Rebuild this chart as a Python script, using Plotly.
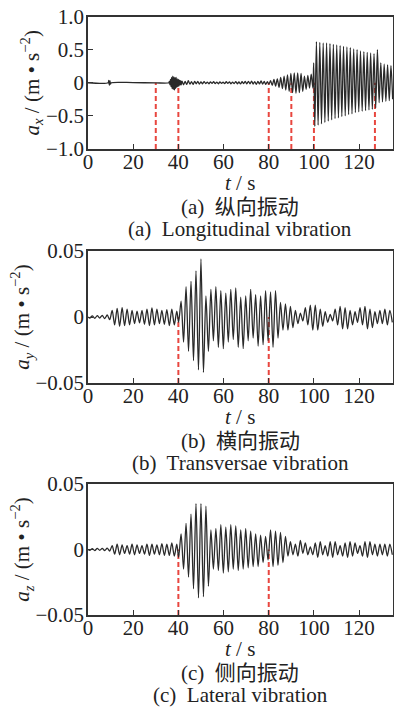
import plotly.graph_objects as go

# ---------------- Panel (a): longitudinal vibration ----------------
ta_quiet = [0.0, 8.9, 9.2, 9.45, 9.7, 9.95, 10.3, 20.0, 30.0, 35.8]
va_quiet = [0.0, 0.0, 0.035, -0.04, 0.03, -0.02, 0.0, 0.002, -0.002, 0.0]

ta_burst = [36.0, 36.25, 36.5, 36.75, 37.0, 37.25, 37.5, 37.75, 38.0, 38.25, 38.5,
            38.75, 39.0, 39.25, 39.5, 39.75, 40.0, 40.25, 40.5, 40.75, 41.0, 41.25]
va_burst = [0.02, -0.03, 0.05, -0.06, 0.08, -0.09, 0.10, -0.10, 0.09, -0.11, 0.08,
            -0.09, 0.08, -0.07, 0.06, -0.06, 0.05, -0.05, 0.04, -0.035, 0.03, -0.03]

ta_noise = [41.6, 42.3, 43.0, 43.7, 44.4, 45.1, 45.8, 46.5, 47.2, 47.9,
            48.6, 49.3, 50.0, 50.7, 51.4, 52.1, 52.8, 53.5, 54.2, 54.9,
            55.6, 56.3, 57.0, 57.7, 58.4, 59.1, 59.8, 60.5, 61.2, 61.9,
            62.6, 63.3, 64.0, 64.7, 65.4, 66.1, 66.8, 67.5, 68.2, 68.9,
            69.6, 70.3, 71.0, 71.7, 72.4, 73.1, 73.8, 74.5, 75.2, 75.9,
            76.6, 77.3, 78.0, 78.7, 79.4, 80.1]
va_noise = [0.025, -0.03, 0.02, -0.025, 0.03, -0.02, 0.015, -0.025, 0.02, -0.015,
            0.02, -0.02, 0.012, -0.015, 0.018, -0.012, 0.01, -0.015, 0.012, -0.01,
            0.015, -0.012, 0.01, -0.015, 0.012, -0.01, 0.008, -0.012, 0.015, -0.01,
            0.012, -0.015, 0.01, -0.012, 0.018, -0.015, 0.012, -0.018, 0.015, -0.012,
            0.02, -0.018, 0.022, -0.015, 0.025, -0.02, 0.018, -0.025, 0.022, -0.018,
            0.028, -0.02, 0.02, -0.025, 0.015, -0.02]

ta_grow = [80.8, 81.55, 82.3, 83.05, 83.8, 84.55, 85.3, 86.05, 86.8, 87.55,
           88.3, 89.05, 89.8, 90.55, 91.3, 92.05, 92.8, 93.55, 94.3, 95.05,
           95.8, 96.55, 97.3, 98.05, 98.8, 99.55]
va_grow = [0.03, -0.04, 0.05, -0.05, 0.06, -0.07, 0.08, -0.09, 0.10, -0.11,
           0.12, -0.13, 0.14, -0.15, 0.15, -0.16, 0.15, -0.15, 0.14, -0.13,
           0.10, -0.10, 0.11, -0.08, 0.13, -0.08]

ta_strong = [99.9, 100.4,
             101.1, 101.85, 102.6, 103.35, 104.1, 104.85, 105.6, 106.35, 107.1, 107.85,
             108.6, 109.35, 110.1, 110.85, 111.6, 112.35, 113.1, 113.85, 114.6, 115.35,
             116.1, 116.85, 117.6, 118.35, 119.1, 119.85, 120.6, 121.35, 122.1, 122.85,
             123.6, 124.35, 125.1, 125.85, 126.6, 127.35, 128.1, 128.85, 129.6, 130.35,
             131.1, 131.85, 132.6, 133.35, 134.1, 134.85]
va_strong = [0.30, -0.66,
             0.62, -0.64, 0.61, -0.62, 0.60, -0.60, 0.60, -0.58, 0.59, -0.56,
             0.58, -0.54, 0.57, -0.53, 0.56, -0.51, 0.55, -0.50, 0.54, -0.48,
             0.53, -0.47, 0.51, -0.45, 0.50, -0.44, 0.48, -0.43, 0.47, -0.42,
             0.46, -0.41, 0.45, -0.40, 0.44, -0.38, 0.50, -0.30, 0.30, -0.29,
             0.28, -0.28, 0.27, -0.27, 0.26, -0.25]

# ---------------- Panels (b) and (c): shared time stamps of extrema ----------------
t_bc = [0.0, 0.8, 1.9, 3.0, 4.1, 5.2, 6.3, 7.4, 8.5, 9.6,
        10.7, 11.8, 12.9, 14.0, 15.1, 16.2, 17.3, 18.4, 19.5, 20.6,
        21.7, 22.8, 23.9, 25.0, 26.1, 27.2, 28.3, 29.4, 30.5, 31.6,
        32.7, 33.8, 34.9, 36.0, 37.1, 38.2, 39.3,
        40.1, 41.2, 42.3, 43.4, 44.5, 45.6, 46.7, 47.8, 48.9, 50.0,
        51.1, 52.2, 53.3, 54.4, 55.5, 56.6, 57.7, 58.8, 59.9, 61.0,
        62.1, 63.2, 64.3, 65.4, 66.5, 67.6, 68.7, 69.8, 70.9, 72.0,
        73.1, 74.2, 75.3, 76.4, 77.5, 78.6, 79.7, 80.8, 81.9, 83.0,
        84.1, 85.2, 86.3, 87.4, 88.5, 89.6, 90.7, 91.8, 92.9, 94.0,
        95.1, 96.2, 97.3, 98.4, 99.5, 100.6, 101.7, 102.8, 103.9, 105.0,
        106.1, 107.2, 108.3, 109.4, 110.5, 111.6, 112.7, 113.8, 114.9, 116.0,
        117.1, 118.2, 119.3, 120.4, 121.5, 122.6, 123.7, 124.8, 125.9, 127.0,
        128.1, 129.2, 130.3, 131.4, 132.5, 133.6, 134.7]

vb = [0.0, -0.0008, 0.0008, -0.001, 0.001, -0.0008, 0.0012, -0.0012, 0.0015, -0.002,
      0.005, -0.006, 0.0065, -0.007, 0.007, -0.0065, 0.006, -0.006, 0.005, -0.005,
      0.0045, -0.0045, 0.005, -0.0055, 0.006, -0.0065, 0.0068, -0.006, 0.006, -0.005,
      0.005, -0.0055, 0.0055, -0.0065, 0.006, -0.006, 0.0045,
      -0.004, 0.012, -0.019, 0.023, -0.026, 0.027, -0.033, 0.035, -0.040, 0.044,
      -0.042, 0.016, -0.026, 0.021, -0.018, 0.023, -0.023, 0.020, -0.024, 0.018,
      -0.019, 0.021, -0.017, 0.022, -0.023, 0.015, -0.024, 0.016, -0.018, 0.021,
      -0.016, 0.017, -0.022, 0.016, -0.021, 0.020, -0.018, 0.019, -0.023, 0.020,
      -0.016, 0.011, -0.010, 0.010, -0.010, 0.008, -0.008, 0.005, -0.005, 0.003,
      -0.003, 0.007, -0.006, 0.009, -0.010, 0.009, -0.010, 0.006, -0.007, 0.004,
      -0.004, 0.002, -0.003, 0.006, -0.006, 0.008, -0.009, 0.007, -0.009, 0.005,
      -0.006, 0.004, -0.004, 0.007, -0.006, 0.008, -0.009, 0.006, -0.008, 0.004,
      -0.005, 0.005, -0.005, 0.006, -0.006, 0.005, -0.004]

vc = [0.0, -0.0006, 0.0006, -0.0008, 0.0008, -0.0006, 0.0008, -0.0008, 0.001, -0.0012,
      0.003, -0.0035, 0.004, -0.004, 0.0035, -0.003, 0.003, -0.0035, 0.004, -0.004,
      0.0035, -0.003, 0.003, -0.0035, 0.004, -0.0045, 0.004, -0.0035, 0.0035, -0.004,
      0.0045, -0.0045, 0.004, -0.0045, 0.005, -0.005, 0.004,
      -0.006, 0.012, -0.015, 0.020, -0.021, 0.027, -0.030, 0.035, -0.037, 0.035,
      -0.036, 0.033, -0.028, 0.015, -0.015, 0.016, -0.016, 0.019, -0.018, 0.017,
      -0.017, 0.019, -0.015, 0.018, -0.016, 0.015, -0.015, 0.016, -0.014, 0.014,
      -0.013, 0.012, -0.013, 0.011, -0.010, 0.010, -0.008, 0.015, -0.013, 0.014,
      -0.012, 0.013, -0.010, 0.010, -0.005, 0.006, -0.004, 0.004, -0.005, 0.007,
      -0.003, 0.005, -0.004, 0.002, -0.004, 0.005, -0.006, 0.006, -0.004, 0.003,
      -0.005, 0.006, -0.006, 0.006, -0.004, 0.003, -0.005, 0.005, -0.006, 0.006,
      -0.005, 0.005, -0.003, 0.003, -0.005, 0.006, -0.006, 0.006, -0.004, 0.004,
      -0.005, 0.004, -0.004, 0.004, -0.005, 0.004, -0.004]

ta = ta_quiet + ta_burst + ta_noise + ta_grow + ta_strong
va = va_quiet + va_burst + va_noise + va_grow + va_strong

# red dashed marker times
marks_a = [30, 40, 80, 90, 100, 127]
marks_b = [40, 80]
marks_c = [40, 80]

# ticks / labels
x_ticks = [0, 20, 40, 60, 80, 100, 120]
ya_ticks = [-1.0, -0.5, 0.0, 0.5, 1.0]
ya_labels = ["\u22121.0", "\u22120.5", "0", "0.5", "1.0"]
ybc_ticks = [-0.05, 0.0, 0.05]
ybc_labels = ["\u22120.05", "0", "0.05"]
y_titles = ["<i>a</i><sub><i>x</i></sub> / (m \u2022 s<sup>\u22122</sup>)",
            "<i>a</i><sub><i>y</i></sub> / (m \u2022 s<sup>\u22122</sup>)",
            "<i>a</i><sub><i>z</i></sub> / (m \u2022 s<sup>\u22122</sup>)"]
cap_cn = ["(a)  纵向振动", "(b)  横向振动", "(c)  侧向振动"]
cap_en = ["(a)  Longitudinal vibration", "(b)  Transversae vibration", "(c)  Lateral vibration"]

W, H = 394, 708
SERIF = "'Liberation Serif', 'Times New Roman', serif"
FONT = "'Liberation Serif', 'Times New Roman', 'Noto Sans CJK SC', serif"
INK = "#222222"
panel_top = [16.5, 251, 484]
panel_bot = [149, 383, 615]
x_left, x_right = 88, 393

series = [(ta, va, marks_a, [-1.0, 1.0], ya_ticks, ya_labels),
          (t_bc, vb, marks_b, [-0.05, 0.05], ybc_ticks, ybc_labels),
          (t_bc, vc, marks_c, [-0.05, 0.05], ybc_ticks, ybc_labels)]

fig = go.Figure()
layout = dict(width=W, height=H, margin=dict(l=0, r=0, t=0, b=0, autoexpand=False),
              paper_bgcolor="white", plot_bgcolor="white",
              font=dict(family=FONT, size=21, color=INK), showlegend=False)
shapes, annotations = [], []

for i, (t, v, marks, yr, yt, yl) in enumerate(series):
    sfx = "" if i == 0 else str(i + 1)
    xa, ya = "x" + sfx, "y" + sfx
    fig.add_trace(go.Scatter(x=t, y=v, xaxis=xa, yaxis=ya, mode="lines",
                             line=dict(color="#2a2a2a", width=1.3, shape="spline", smoothing=0.8),
                             hoverinfo="skip"))
    for m in marks:
        shapes.append(dict(type="line", xref=xa, yref=ya, x0=m, x1=m, y0=yr[0], y1=0,
                           line=dict(color="#e8463f", width=2, dash="5px,3px"), layer="below"))
    axis_common = dict(showline=True, mirror=True, linecolor="#333333", linewidth=1.5,
                       ticks="inside", ticklen=5, tickwidth=1.2, tickcolor="#333333",
                       showgrid=False, zeroline=False, automargin=False,
                       tickfont=dict(family=SERIF, size=21, color=INK))
    layout["xaxis" + sfx] = dict(axis_common, domain=[x_left / W, x_right / W], range=[0, 135],
                                 tickvals=x_ticks, anchor=ya, ticklabelstandoff=-7)
    layout["yaxis" + sfx] = dict(axis_common,
                                 domain=[1 - panel_bot[i] / H, 1 - panel_top[i] / H],
                                 range=yr, tickvals=yt, ticktext=yl, anchor=xa,
                                 ticklabelstandoff=-2,
                                 title=dict(text=y_titles[i], standoff=0,
                                            font=dict(family=SERIF, size=21, color=INK)))
    b = panel_bot[i]
    for dy, txt in [(34, "<i>t</i> / s"), (58, cap_cn[i]), (80, cap_en[i])]:
        annotations.append(dict(xref="paper", yref="paper", x=240 / W, y=1 - (b + dy) / H,
                                xanchor="center", yanchor="middle", showarrow=False, text=txt,
                                font=dict(family=FONT, size=21, color=INK)))

layout["shapes"] = shapes
layout["annotations"] = annotations
fig.update_layout(**layout)
fig.write_html("out.html", config={"displayModeBar": False},
               post_script="document.body.style.margin='0';document.body.style.overflow='hidden';")
